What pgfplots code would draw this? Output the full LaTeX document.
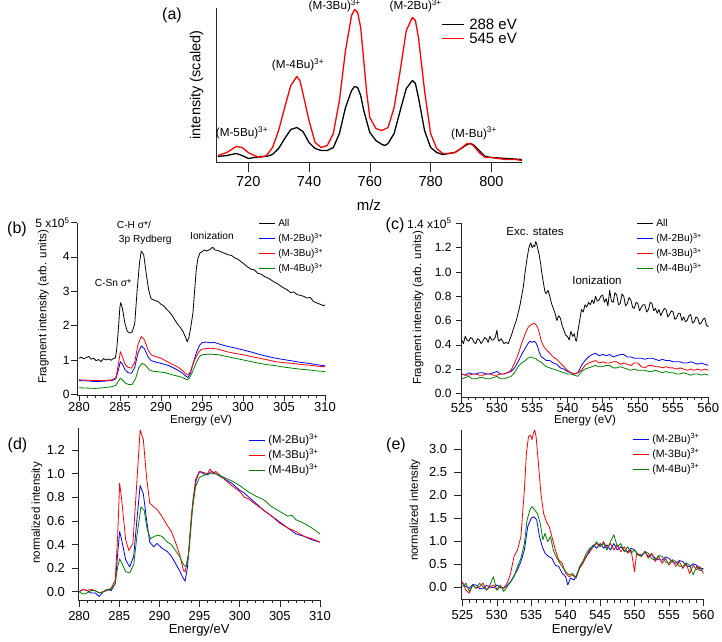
\documentclass[border=0pt]{standalone}
\usepackage{fontspec}
\setmainfont{Liberation Sans}
\usepackage{pgfplots}
\pgfplotsset{compat=1.18}
\definecolor{cred}{RGB}{255,0,0}
\definecolor{cblue}{RGB}{0,0,255}
\definecolor{cgreen}{RGB}{0,128,0}
\newcommand{\fs}[1]{\fontsize{#1}{#1}\selectfont}
\pgfplotsset{
  igor/.style={
    scale only axis,
    axis x line*=bottom, axis y line*=left,
    axis line style={line width=0.7pt, black!85},
    tick align=outside,
    tick style={line width=0.6pt, black!85},
    major tick length=6pt, minor tick length=3pt,
    xticklabel style={font=\fs{13}, inner sep=0.5pt},
    yticklabel style={font=\fs{12}, inner sep=1.5pt},
    /pgf/number format/assume math mode=true,
    scaled ticks=false,
    legend cell align=left,
    legend image code/.code={\draw[##1, line width=1.1pt] (0pt,0pt) -- (16pt,0pt);},
    every axis plot/.append style={line width=0.8pt, line join=round},
    clip=false,
  },
}
\begin{document}
\begin{tikzpicture}
\useasboundingbox (0pt,0pt) rectangle (722pt,641pt);

% ---------------- (a) ----------------
\begin{axis}[igor, at={(216pt,478.5pt)}, anchor=south west, width=305.8pt, height=154.2pt,
  xmin=709.4, xmax=810, ymin=0, ymax=154.2,
  xtick={720,740,760,780,800}, ytick=\empty,
  major tick length=10pt,
  xticklabel style={font=\fs{14.5}, inner sep=4pt},
  every axis plot/.append style={line width=1.3pt},
  xlabel={m/z}, xlabel style={font=\fs{15}, at={(axis description cs:0.5,-0.276)}, anchor=center},
  ylabel={intensity (scaled)}, ylabel style={font=\fs{14.5}, at={(axis description cs:-0.063,0.503)}, anchor=center},
  legend style={at={(0.735,0.9446)}, anchor=north west, draw=none, fill=none, inner sep=0pt, row sep=0pt, column sep=5pt, font=\fs{15}, nodes={inner sep=0pt, text height=12.5pt, text depth=1.8pt}},
  legend image code/.code={\draw[#1] (0pt,0pt) -- (22pt,0pt);},
]
\addplot[black] coordinates {(710,6)(713,7)(716,9)(718,7)(720,4)(722,5)(724,6)(726,6)(728,8)(730,14)(732,24)(734,33)(736,35)(738,31)(740,20)(742,14)(744,12)(746,12)(748,15)(750,29)(752,55)(754,72)(755,76)(756,75)(757,67)(758,52)(760,30)(762,22)(764,18)(765,17)(766,19)(768,29)(770,52)(772,74)(774,82)(775,79)(776,65)(778,32)(780,15)(782,10)(784,8)(786,9)(788,10)(790,14)(792,18)(793,19)(794,18)(796,12)(798,6)(800,5)(805,4)(810,3)};
\addlegendentry{288 eV}
\addplot[cred] coordinates {(710,7)(713,10)(716,16)(718,15)(720,10)(722,7)(724,5)(726,7)(728,15)(730,32)(732,55)(734,77)(736,86)(737,82)(738,69)(740,42)(742,20)(744,15)(746,17)(748,29)(750,62)(752,112)(754,147)(755,153)(756,150)(757,135)(758,102)(759,69)(760,45)(762,34)(764,32)(766,35)(768,55)(770,92)(772,132)(774,145)(775,142)(776,125)(778,72)(780,29)(782,14)(784,9)(786,9)(788,10)(790,14)(792,19)(793,19)(794,17)(796,10)(798,5)(800,5)(802,4)(805,3)(808,3)(810,2)};
\addlegendentry{545 eV}
\end{axis}

% ---------------- (b) ----------------
\begin{axis}[igor, at={(77.3pt,245.7pt)}, anchor=south west, width=247.7pt, height=172.8pt,
  xmin=279.8, xmax=310, ymin=-0.03, ymax=5,
  xtick={280,285,290,295,300,305,310}, minor x tick num=4,
  ytick={0,1,2,3,4,5}, yticklabels={0,1,2,3,4,{5 x10\textsuperscript{5}}},
  xlabel={Energy (eV)}, xlabel style={font=\fs{11.6}, inner sep=0pt, at={(axis description cs:0.5,-0.145)}, anchor=center},
  ylabel={Fragment intensity (arb. units)}, ylabel style={font=\fs{11.5}, at={(axis description cs:-0.137,0.511)}, anchor=center},
  legend style={at={(0.7295,1.0405)}, anchor=north west, draw=none, fill=none, inner sep=0pt, row sep=0pt, column sep=3pt, font=\fs{10}, nodes={inner sep=0pt, text height=11pt, text depth=4pt}},
]
\addplot[black] coordinates {(280,1.05)(280.3,1.08)(280.6,1.03)(280.9,1.07)(281.2,1.1)(281.5,1.02)(281.8,1.05)(282.1,0.98)(282.4,1.01)(282.7,0.95)(283,1.04)(283.3,1.0)(283.6,1.03)(283.9,0.99)(284.2,1.04)(284.45,1.06)(284.6,1.3)(284.8,1.87)(285.0,2.55)(285.1,2.67)(285.3,2.5)(285.6,2.07)(285.9,1.83)(286.2,1.78)(286.5,1.82)(286.8,2.05)(287.1,3.04)(287.4,3.86)(287.6,4.17)(287.9,4.06)(288.2,3.52)(288.5,3.04)(288.8,2.78)(289.1,2.75)(289.4,2.72)(289.7,2.69)(290.0,2.62)(290.3,2.58)(290.6,2.5)(291.0,2.4)(291.4,2.28)(291.7,2.16)(292.0,2.05)(292.4,1.93)(292.7,1.82)(293.0,1.66)(293.2,1.53)(293.4,1.65)(293.6,1.9)(293.9,2.37)(294.1,3.0)(294.3,3.62)(294.5,3.95)(294.75,4.11)(295.0,4.15)(295.3,4.2)(295.6,4.17)(296,4.22)(296.3,4.28)(296.6,4.2)(297,4.18)(297.4,4.14)(297.8,4.1)(298.2,4.06)(298.6,4.04)(299,3.97)(299.4,3.93)(299.8,3.85)(300.2,3.78)(300.6,3.7)(301,3.64)(301.4,3.62)(301.8,3.52)(302.2,3.5)(302.6,3.43)(303,3.39)(303.4,3.33)(303.8,3.27)(304.2,3.22)(304.6,3.15)(305,3.09)(305.4,3.04)(305.8,2.96)(306.2,2.98)(306.6,2.9)(307,2.88)(307.4,2.85)(307.8,2.8)(308.2,2.82)(308.6,2.7)(309,2.66)(309.4,2.62)(309.8,2.58)(310,2.6)};
\addlegendentry{All}
\addplot[cblue] coordinates {(280,0.4)(281,0.39)(282,0.37)(283,0.38)(284,0.4)(284.5,0.45)(284.8,0.7)(285.05,0.95)(285.3,0.88)(285.6,0.72)(286,0.63)(286.4,0.61)(286.8,0.78)(287.2,1.2)(287.6,1.41)(288,1.32)(288.4,1.1)(288.8,0.98)(289.3,0.94)(290,0.9)(291,0.83)(292,0.71)(292.6,0.62)(293,0.53)(293.3,0.49)(293.6,0.62)(293.9,0.88)(294.3,1.2)(294.7,1.42)(295,1.5)(295.5,1.52)(296,1.5)(296.5,1.51)(297,1.47)(298,1.4)(299,1.35)(300,1.29)(301,1.23)(302,1.16)(303,1.1)(304,1.05)(305,1.01)(306,0.97)(307,0.93)(308,0.9)(309,0.86)(310,0.83)};
\addlegendentry{(M-2Bu)\textsuperscript{3+}}
\addplot[cred] coordinates {(280,0.42)(281,0.41)(282,0.4)(283,0.4)(284,0.42)(284.5,0.48)(284.8,0.85)(285.05,1.24)(285.3,1.1)(285.6,0.88)(286,0.78)(286.4,0.76)(286.8,0.93)(287.2,1.45)(287.6,1.68)(288,1.58)(288.4,1.3)(288.8,1.15)(289.3,1.1)(290,1.05)(291,0.92)(292,0.8)(292.6,0.7)(293,0.6)(293.3,0.56)(293.6,0.66)(293.9,0.88)(294.3,1.1)(294.7,1.26)(295,1.31)(295.5,1.33)(296,1.34)(296.5,1.33)(297,1.31)(298,1.24)(299,1.19)(300,1.15)(301,1.1)(302,1.05)(303,1.0)(304,0.95)(305,0.92)(306,0.9)(307,0.87)(308,0.85)(309,0.82)(310,0.8)};
\addlegendentry{(M-3Bu)\textsuperscript{3+}}
\addplot[cgreen] coordinates {(280,0.19)(281,0.18)(282,0.17)(283,0.19)(284,0.22)(284.5,0.26)(284.8,0.38)(285.05,0.47)(285.3,0.42)(285.7,0.32)(286.1,0.28)(286.5,0.29)(286.9,0.45)(287.3,0.78)(287.7,0.9)(288.1,0.85)(288.6,0.71)(289.0,0.67)(289.5,0.66)(290.5,0.63)(291.5,0.56)(292.5,0.5)(293.2,0.42)(293.5,0.48)(293.8,0.63)(294.3,0.92)(294.7,1.1)(295,1.15)(296,1.17)(297,1.15)(298,1.1)(299,1.05)(300,1.0)(301,0.95)(302,0.9)(303,0.86)(304,0.83)(305,0.79)(306,0.76)(307,0.73)(308,0.71)(309,0.68)(310,0.66)};
\addlegendentry{(M-4Bu)\textsuperscript{3+}}
\end{axis}

% ---------------- (c) ----------------
\begin{axis}[igor, at={(461.7pt,244pt)}, anchor=south west, width=246.6pt, height=173.6pt,
  xmin=525, xmax=560, ymin=-0.03, ymax=1.4,
  xtick={525,530,535,540,545,550,555,560}, minor x tick num=4,
  xticklabel style={inner sep=0pt},
  yticklabel style={xshift=-2.5pt},
  ytick={0,0.2,0.4,0.6,0.8,1.0,1.2,1.4}, yticklabels={0.0,0.2,0.4,0.6,0.8,1.0,1.2,{1.4 x10\textsuperscript{5}}},
  xlabel={Energy (eV)}, xlabel style={font=\fs{11.6}, inner sep=0pt, at={(axis description cs:0.5,-0.137)}, anchor=center},
  ylabel={Fragment intensity (arb. units)}, ylabel style={font=\fs{11.5}, at={(axis description cs:-0.177,0.513)}, anchor=center},
  legend style={at={(0.7068,1.0455)}, anchor=north west, draw=none, fill=none, inner sep=0pt, row sep=0pt, column sep=3pt, font=\fs{10.2}, nodes={inner sep=0pt, text height=11pt, text depth=4pt}},
]
\addplot[black] coordinates {(525,0.44)(525.25,0.41)(525.5,0.47)(525.75,0.44)(526,0.43)(526.25,0.46)(526.5,0.45)(526.75,0.42)(527,0.41)(527.25,0.45)(527.5,0.44)(527.75,0.41)(528,0.43)(528.25,0.46)(528.5,0.45)(528.75,0.42)(529,0.47)(529.25,0.44)(529.5,0.44)(529.75,0.46)(530,0.52)(530.15,0.45)(530.3,0.43)(530.6,0.45)(531,0.41)(531.3,0.42)(531.6,0.41)(532,0.47)(532.5,0.56)(532.75,0.6)(533,0.66)(533.25,0.72)(533.5,0.8)(533.75,0.88)(534,1.0)(534.25,1.1)(534.5,1.19)(534.65,1.22)(534.8,1.24)(535,1.2)(535.2,1.22)(535.35,1.21)(535.5,1.25)(535.65,1.23)(535.8,1.19)(536,1.14)(536.2,1.07)(536.4,0.98)(536.6,0.91)(536.8,0.84)(537,0.82)(537.25,0.85)(537.5,0.8)(537.75,0.74)(538,0.7)(538.25,0.66)(538.5,0.6)(538.75,0.64)(539,0.62)(539.25,0.56)(539.5,0.52)(539.75,0.48)(540,0.47)(540.25,0.44)(540.5,0.51)(540.75,0.47)(541,0.49)(541.15,0.44)(541.3,0.43)(541.45,0.5)(541.6,0.55)(541.8,0.62)(542,0.69)(542.25,0.67)(542.5,0.73)(542.75,0.71)(543,0.75)(543.25,0.73)(543.5,0.77)(543.75,0.74)(544,0.8)(544.25,0.76)(544.5,0.77)(544.75,0.8)(545,0.81)(545.25,0.75)(545.5,0.78)(545.75,0.72)(546,0.85)(546.25,0.76)(546.5,0.75)(546.75,0.83)(547,0.81)(547.25,0.73)(547.5,0.74)(547.75,0.82)(548,0.8)(548.25,0.72)(548.5,0.74)(548.75,0.79)(549,0.77)(549.25,0.71)(549.5,0.7)(549.75,0.75)(550,0.74)(550.25,0.68)(550.5,0.71)(550.75,0.73)(551,0.73)(551.25,0.67)(551.5,0.69)(551.75,0.75)(552,0.74)(552.25,0.68)(552.5,0.7)(552.75,0.66)(553,0.69)(553.25,0.64)(553.5,0.67)(553.75,0.7)(554,0.69)(554.25,0.63)(554.5,0.65)(554.75,0.68)(555,0.67)(555.25,0.61)(555.5,0.62)(555.75,0.66)(556,0.66)(556.25,0.6)(556.5,0.63)(556.75,0.59)(557,0.6)(557.25,0.64)(557.5,0.65)(557.75,0.58)(558,0.59)(558.25,0.63)(558.5,0.62)(558.75,0.57)(559,0.58)(559.25,0.61)(559.5,0.62)(559.75,0.56)(560,0.55)};
\addlegendentry{All}
\addplot[cblue] coordinates {(525,0.16)(525.5,0.15)(526,0.17)(526.5,0.16)(527,0.16)(527.5,0.17)(528,0.17)(528.5,0.16)(529,0.16)(529.5,0.17)(530,0.18)(530.5,0.16)(531,0.16)(531.5,0.17)(532,0.18)(532.5,0.21)(533,0.26)(533.5,0.32)(534,0.37)(534.4,0.41)(534.7,0.43)(535,0.42)(535.3,0.43)(535.6,0.41)(535.8,0.38)(536,0.34)(536.3,0.3)(536.6,0.29)(537,0.27)(537.5,0.27)(538,0.25)(538.5,0.24)(539,0.21)(539.5,0.2)(540,0.18)(540.5,0.17)(541,0.16)(541.5,0.17)(542,0.23)(542.5,0.27)(543,0.3)(543.5,0.32)(544,0.33)(544.5,0.31)(545,0.32)(545.5,0.31)(546,0.32)(546.5,0.3)(547,0.31)(547.5,0.32)(548,0.32)(548.5,0.3)(549,0.3)(549.5,0.29)(550,0.29)(550.5,0.29)(551,0.28)(551.5,0.29)(552,0.29)(552.5,0.28)(553,0.27)(553.5,0.28)(554,0.27)(554.5,0.27)(555,0.26)(555.5,0.26)(556,0.26)(556.5,0.25)(557,0.25)(557.5,0.26)(558,0.25)(558.5,0.24)(559,0.25)(559.5,0.24)(560,0.23)};
\addlegendentry{(M-2Bu)\textsuperscript{3+}}
\addplot[cred] coordinates {(525,0.16)(525.5,0.15)(526,0.15)(526.5,0.16)(527,0.16)(527.5,0.15)(528,0.15)(528.5,0.16)(529,0.16)(529.5,0.15)(530,0.15)(530.5,0.16)(531,0.16)(531.5,0.17)(532,0.19)(532.5,0.25)(533,0.32)(533.5,0.41)(534,0.49)(534.4,0.54)(534.7,0.56)(535,0.57)(535.3,0.58)(535.6,0.56)(535.8,0.54)(536,0.5)(536.3,0.43)(536.6,0.39)(537,0.36)(537.5,0.33)(538,0.3)(538.5,0.28)(539,0.25)(539.5,0.22)(540,0.19)(540.5,0.17)(541,0.16)(541.5,0.17)(542,0.19)(542.5,0.23)(543,0.25)(543.5,0.26)(544,0.27)(544.5,0.25)(545,0.26)(545.5,0.25)(546,0.25)(546.5,0.26)(547,0.26)(547.5,0.24)(548,0.25)(548.5,0.24)(549,0.23)(549.5,0.25)(550,0.25)(550.5,0.22)(551,0.21)(551.5,0.23)(552,0.23)(552.5,0.22)(553,0.22)(553.5,0.21)(554,0.22)(554.5,0.21)(555,0.21)(555.5,0.2)(556,0.21)(556.5,0.2)(557,0.19)(557.5,0.2)(558,0.19)(558.5,0.2)(559,0.19)(559.5,0.2)(560,0.19)};
\addlegendentry{(M-3Bu)\textsuperscript{3+}}
\addplot[cgreen] coordinates {(525,0.12)(525.5,0.13)(526,0.14)(526.5,0.12)(527,0.12)(527.5,0.13)(528,0.13)(528.5,0.12)(529,0.12)(529.5,0.13)(530,0.14)(530.5,0.12)(531,0.12)(531.5,0.13)(532,0.14)(532.5,0.17)(533,0.22)(533.5,0.25)(534,0.27)(534.4,0.29)(534.8,0.3)(535.2,0.29)(535.5,0.29)(535.8,0.27)(536.2,0.26)(536.6,0.24)(537,0.22)(537.5,0.21)(538,0.2)(538.5,0.19)(539,0.18)(539.5,0.17)(540,0.16)(540.5,0.16)(541,0.15)(541.5,0.14)(542,0.18)(542.5,0.2)(543,0.21)(543.5,0.22)(544,0.23)(544.5,0.22)(545,0.22)(545.5,0.23)(546,0.23)(546.5,0.21)(547,0.21)(547.5,0.22)(548,0.21)(548.5,0.2)(549,0.19)(549.5,0.2)(550,0.19)(550.5,0.19)(551,0.19)(551.5,0.18)(552,0.18)(552.5,0.19)(553,0.18)(553.5,0.17)(554,0.18)(554.5,0.17)(555,0.17)(555.5,0.16)(556,0.16)(556.5,0.17)(557,0.16)(557.5,0.15)(558,0.16)(558.5,0.16)(559,0.15)(559.5,0.16)(560,0.15)};
\addlegendentry{(M-4Bu)\textsuperscript{3+}}
\end{axis}

% ---------------- (d) ----------------
\begin{axis}[igor, at={(78.3pt,41pt)}, anchor=south west, width=241.7pt, height=171.7pt,
  xmin=279.9, xmax=310, ymin=-0.07, ymax=1.385,
  major tick length=6.7pt, minor tick length=3.3pt,
  xtick={280,285,290,295,300,305,310}, minor x tick num=4,
  xticklabel style={inner sep=0.5pt, yshift=-4pt},
  yticklabel style={font=\fs{13}, xshift=-5pt},
  ytick={0,0.2,0.4,0.6,0.8,1.0,1.2}, yticklabels={0.0,0.2,0.4,0.6,0.8,1.0,1.2},
  xlabel={Energy/eV}, xlabel style={font=\fs{13}, inner sep=0pt, at={(axis description cs:0.5,-0.175)}, anchor=center},
  ylabel={normalized intensity}, ylabel style={font=\fs{11.5}, at={(axis description cs:-0.171,0.507)}, anchor=center},
  legend style={at={(0.702,0.9755)}, anchor=north west, draw=none, fill=none, inner sep=0pt, row sep=0pt, column sep=3pt, font=\fs{11.3}, nodes={inner sep=0pt, text height=11pt, text depth=4pt}},
]
\addplot[cblue] coordinates {(280,0.0)(280.5,0.02)(281,0.01)(281.5,-0.01)(282,-0.01)(282.5,-0.04)(283,0.0)(283.5,0.02)(284,0.01)(284.5,0.07)(284.8,0.32)(285.05,0.51)(285.3,0.44)(285.8,0.27)(286.3,0.21)(286.8,0.3)(287.2,0.61)(287.6,0.9)(288.0,0.83)(288.4,0.61)(288.8,0.42)(289.3,0.38)(289.7,0.41)(290.3,0.37)(291,0.34)(291.5,0.3)(292,0.24)(292.5,0.18)(293,0.11)(293.2,0.09)(293.5,0.21)(293.8,0.47)(294.2,0.78)(294.6,0.95)(295,1.02)(295.5,1.0)(296,0.99)(296.5,1.02)(297,1.0)(298,0.96)(299,0.92)(300,0.86)(300.5,0.84)(301,0.81)(302,0.75)(303,0.69)(304,0.64)(305,0.59)(306,0.54)(307,0.49)(308,0.47)(309,0.44)(310,0.42)};
\addlegendentry{(M-2Bu)\textsuperscript{3+}}
\addplot[cred] coordinates {(280,0)(280.5,0.02)(281,0.01)(281.5,0.02)(282,0.01)(282.5,-0.01)(283,0)(283.5,0.01)(284,0.03)(284.5,0.1)(284.8,0.47)(285.05,0.92)(285.3,0.78)(285.8,0.44)(286.2,0.35)(286.7,0.41)(287.1,0.83)(287.6,1.37)(288.0,1.29)(288.4,0.97)(288.8,0.75)(289.3,0.72)(289.8,0.69)(290.3,0.64)(291,0.56)(291.5,0.51)(292,0.42)(292.5,0.32)(293,0.18)(293.2,0.17)(293.6,0.3)(294,0.66)(294.5,0.95)(295,1.02)(295.5,1.01)(296,1.0)(296.3,1.04)(296.7,1.0)(297,1.02)(298,0.96)(299,0.9)(300,0.85)(300.6,0.8)(301,0.79)(302,0.74)(303,0.69)(304,0.64)(305,0.58)(306,0.54)(307,0.51)(308,0.47)(309,0.45)(310,0.42)};
\addlegendentry{(M-3Bu)\textsuperscript{3+}}
\addplot[cgreen] coordinates {(280,0)(280.5,-0.02)(281,-0.01)(281.5,0.01)(282,0.01)(282.5,-0.01)(283,0)(283.5,0.02)(284,0.02)(284.5,0.07)(284.8,0.21)(285.05,0.28)(285.4,0.23)(285.8,0.17)(286.3,0.16)(286.8,0.23)(287.2,0.47)(287.7,0.72)(288.1,0.69)(288.5,0.52)(288.9,0.45)(289.4,0.47)(289.8,0.48)(290.3,0.47)(291,0.42)(291.5,0.4)(292,0.35)(292.5,0.3)(293,0.23)(293.3,0.21)(293.7,0.35)(294.1,0.69)(294.5,0.89)(295,0.97)(296,1.0)(297,1.0)(298,0.97)(299,0.94)(300,0.9)(301,0.85)(302,0.81)(303,0.78)(304,0.72)(305,0.68)(306,0.64)(306.5,0.65)(307,0.61)(308,0.58)(309,0.54)(310,0.49)};
\addlegendentry{(M-4Bu)\textsuperscript{3+}}
\end{axis}

% ---------------- (e) ----------------
\begin{axis}[igor, at={(461pt,41.7pt)}, anchor=south west, width=242.4pt, height=169.2pt,
  xmin=524.8, xmax=560, ymin=-0.26, ymax=3.41,
  major tick length=6.7pt, minor tick length=3.3pt,
  xtick={525,530,535,540,545,550,555,560}, minor x tick num=4,
  xticklabel style={inner sep=0.5pt, yshift=-4pt},
  yticklabel style={font=\fs{13}, xshift=-5.5pt},
  ytick={0,0.5,1.0,1.5,2.0,2.5,3.0}, yticklabels={0.0,0.5,1.0,1.5,2.0,2.5,3.0},
  xlabel={Energy/eV}, xlabel style={font=\fs{13}, inner sep=0pt, at={(axis description cs:0.5,-0.181)}, anchor=center},
  ylabel={normalized intensity}, ylabel style={font=\fs{11.5}, at={(axis description cs:-0.19,0.527)}, anchor=center},
  legend style={at={(0.7054,0.9917)}, anchor=north west, draw=none, fill=none, inner sep=0pt, row sep=0pt, column sep=3pt, font=\fs{10.6}, nodes={inner sep=0pt, text height=11pt, text depth=4pt}},
]
\addplot[cblue] coordinates {(525,0.09)(525.5,0.02)(526,-0.02)(526.5,0.06)(527,0.05)(527.5,-0.03)(528,-0.02)(528.5,0.04)(529,0.01)(529.5,-0.01)(530,0.05)(530.5,0.0)(531,-0.02)(531.5,0.04)(532,0.12)(533,0.38)(533.5,0.56)(534,0.81)(534.5,1.32)(535,1.5)(535.4,1.53)(535.8,1.46)(536.2,1.1)(536.6,0.88)(537,0.74)(537.5,0.67)(538,0.63)(538.5,0.48)(539,0.45)(539.5,0.3)(540,0.23)(540.3,0.05)(540.7,0.2)(541.2,0.16)(541.6,0.27)(542,0.41)(542.5,0.56)(543,0.67)(543.5,0.81)(544,0.92)(544.5,0.85)(545,0.95)(545.5,0.85)(546,0.92)(546.5,0.81)(547,0.95)(547.5,0.81)(548,0.88)(548.5,0.8)(549,0.77)(549.5,0.85)(550,0.81)(550.5,0.72)(551,0.7)(551.5,0.76)(552,0.67)(552.5,0.71)(553,0.63)(553.5,0.6)(554,0.59)(554.5,0.66)(555,0.63)(555.5,0.55)(556,0.52)(556.5,0.58)(557,0.56)(557.5,0.47)(558,0.45)(558.5,0.51)(559,0.48)(559.5,0.4)(560,0.41)};
\addlegendentry{(M-2Bu)\textsuperscript{3+}}
\addplot[cred] coordinates {(525,0.12)(525.5,-0.06)(526,-0.13)(526.5,0.05)(527,-0.02)(527.5,0.01)(528,0.09)(528.5,-0.06)(529,0.01)(529.5,0.05)(530,-0.06)(530.5,0.01)(531,-0.02)(531.5,0.09)(532,0.3)(532.5,0.67)(533,0.81)(533.5,1.1)(534,2.11)(534.3,2.91)(534.6,3.27)(534.9,3.3)(535.1,3.2)(535.3,3.34)(535.5,3.41)(535.7,3.27)(536,2.76)(536.4,2.04)(536.8,1.6)(537.2,1.42)(537.6,1.32)(538,1.1)(538.5,0.81)(539,0.59)(539.5,0.52)(540,0.3)(540.5,0.23)(541,0.27)(541.5,0.2)(542,0.41)(542.5,0.52)(543,0.67)(543.5,0.77)(544,0.88)(544.5,0.95)(545,0.88)(545.5,0.99)(546,0.85)(546.5,0.95)(547,0.81)(547.5,0.92)(548,0.77)(548.5,0.88)(549,0.74)(549.5,0.81)(550,0.34)(550.3,0.74)(551,0.67)(551.5,0.77)(552,0.63)(552.5,0.74)(553,0.56)(553.5,0.67)(554,0.52)(554.5,0.63)(555,0.48)(555.5,0.59)(556,0.45)(556.5,0.56)(557,0.41)(557.5,0.52)(558,0.3)(558.5,0.48)(559,0.38)(559.5,0.45)(560,0.3)};
\addlegendentry{(M-3Bu)\textsuperscript{3+}}
\addplot[cgreen] coordinates {(525,0.01)(525.5,0.09)(526,-0.09)(526.5,0.05)(527,-0.02)(527.5,0.09)(528,0.01)(528.5,-0.06)(529,0.05)(529.5,0.23)(530,-0.06)(530.5,0.05)(531,-0.09)(531.5,0.01)(532,0.12)(532.5,0.23)(533,0.45)(533.5,0.63)(534,0.95)(534.4,1.46)(534.8,1.68)(535.1,1.75)(535.5,1.68)(535.9,1.6)(536.3,1.39)(536.7,1.03)(537,1.17)(537.4,0.99)(537.8,1.1)(538.2,0.81)(538.6,0.67)(539,0.56)(539.5,0.45)(540,0.34)(540.5,0.27)(541,0.3)(541.5,0.2)(542,0.45)(542.5,0.56)(543,0.74)(543.5,0.85)(544,0.88)(544.5,0.99)(545,0.88)(545.5,0.95)(546,0.81)(546.5,0.99)(547,1.14)(547.5,0.88)(548,0.95)(548.5,0.77)(549,0.88)(549.5,0.74)(550,0.81)(550.5,0.7)(551,0.67)(551.5,0.78)(552,0.74)(552.5,0.62)(553,0.59)(553.5,0.69)(554,0.67)(554.5,0.55)(555,0.52)(555.5,0.6)(556,0.56)(556.5,0.46)(557,0.45)(557.5,0.53)(558,0.48)(558.5,0.27)(559,0.45)(559.5,0.36)(560,0.38)};
\addlegendentry{(M-4Bu)\textsuperscript{3+}}
\end{axis}

% ---------------- labels ----------------
\node[font=\fs{16}] at (172pt,626pt) {(a)};
\node[font=\fs{16}] at (17pt,412pt) {(b)};
\node[font=\fs{16}] at (395pt,416pt) {(c)};
\node[font=\fs{16}] at (17.5pt,196pt) {(d)};
\node[font=\fs{16}] at (396pt,196pt) {(e)};

\node[font=\fs{11.7}] at (242pt,508.3pt) {(M-5Bu)\textsuperscript{3+}};
\node[font=\fs{11.7}] at (298pt,576pt) {(M-4Bu)\textsuperscript{3+}};
\node[font=\fs{11.7}] at (334.7pt,635.3pt) {(M-3Bu)\textsuperscript{3+}};
\node[font=\fs{11.7}] at (415.7pt,635.3pt) {(M-2Bu)\textsuperscript{3+}};
\node[font=\fs{11.7}] at (474pt,507.7pt) {(M-Bu)\textsuperscript{3+}};

\node[font=\fs{10.2}] at (134pt,416pt) {C-H σ*/};
\node[font=\fs{10.2}] at (145.3pt,401pt) {3p Rydberg};
\node[font=\fs{10.2}] at (212pt,405pt) {Ionization};
\node[font=\fs{10.2}] at (113pt,358.3pt) {C-Sn σ*};
\node[font=\fs{11.5}] at (535pt,409.3pt) {Exc. states};
\node[font=\fs{11.5}] at (597pt,360.3pt) {Ionization};
\end{tikzpicture}
\end{document}
